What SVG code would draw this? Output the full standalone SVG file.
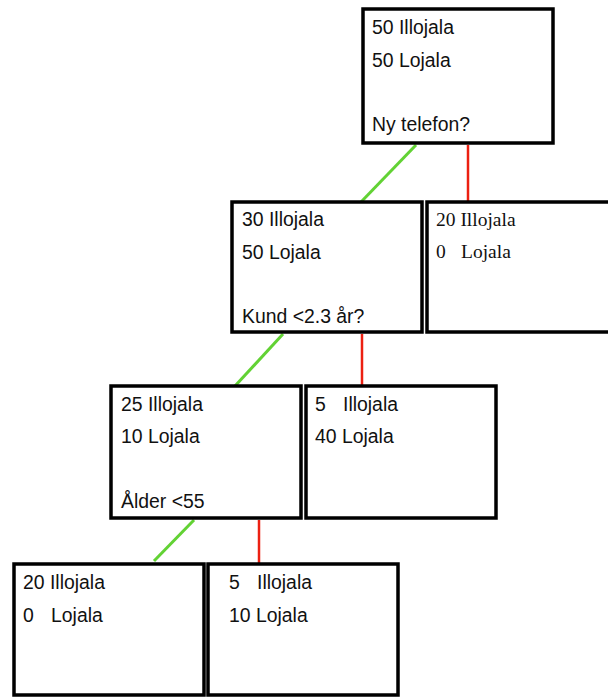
<svg xmlns="http://www.w3.org/2000/svg" width="608" height="697" viewBox="0 0 608 697">
<style>
.box{fill:#fff;stroke:#000;stroke-width:3.5}
.t{font-family:"Liberation Sans",Arial,sans-serif;font-size:19.4px;fill:#111}
.s{font-family:"Liberation Serif","Times New Roman",serif;font-size:19.5px;fill:#111}
.g{stroke:#62d234;stroke-width:3;fill:none}
.r{stroke:#ec2012;stroke-width:2.5;fill:none}
</style>
<rect width="608" height="697" fill="#fff"/>
<g id="connectors">
<line class="g" x1="416" y1="145" x2="361" y2="202"/>
<line class="r" x1="468" y1="145" x2="468" y2="201"/>
<line class="g" x1="283" y1="334" x2="235" y2="386"/>
<line class="r" x1="362" y1="334" x2="362" y2="386"/>
<line class="g" x1="194" y1="520" x2="154" y2="561"/>
<line class="r" x1="259" y1="520" x2="259" y2="564"/>
</g>
<g id="root">
<rect class="box" x="363" y="9" width="190" height="134"/>
<text class="t" x="372" y="34">50 Illojala</text>
<text class="t" x="372" y="67">50 Lojala</text>
<text class="t" x="372" y="131">Ny telefon?</text>
</g>
<g id="n2left">
<rect class="box" x="232" y="202" width="190" height="130"/>
<text class="t" x="242" y="226">30 Illojala</text>
<text class="t" x="242" y="259">50 Lojala</text>
<text class="t" x="242" y="323">Kund &lt;2.3 år?</text>
</g>
<g id="n2right">
<rect class="box" x="427" y="202" width="190" height="130"/>
<text class="s" x="436" y="226">20 Illojala</text>
<text class="s" x="436" y="258">0</text>
<text class="s" x="461" y="258">Lojala</text>
</g>
<g id="n3left">
<rect class="box" x="111" y="386" width="190" height="132"/>
<text class="t" x="121" y="411">25 Illojala</text>
<text class="t" x="121" y="443">10 Lojala</text>
<text class="t" x="121" y="508">Ålder &lt;55</text>
</g>
<g id="n3right">
<rect class="box" x="306" y="386" width="190" height="132"/>
<text class="t" x="315" y="411">5</text>
<text class="t" x="343" y="411">Illojala</text>
<text class="t" x="315" y="443">40 Lojala</text>
</g>
<g id="n4left">
<rect class="box" x="14" y="564" width="190" height="131"/>
<text class="t" x="23" y="589">20 Illojala</text>
<text class="t" x="23" y="622">0</text>
<text class="t" x="51" y="622">Lojala</text>
</g>
<g id="n4right">
<rect class="box" x="208" y="564" width="190" height="131"/>
<text class="t" x="229" y="589">5</text>
<text class="t" x="257" y="589">Illojala</text>
<text class="t" x="229" y="622">10 Lojala</text>
</g>
</svg>
